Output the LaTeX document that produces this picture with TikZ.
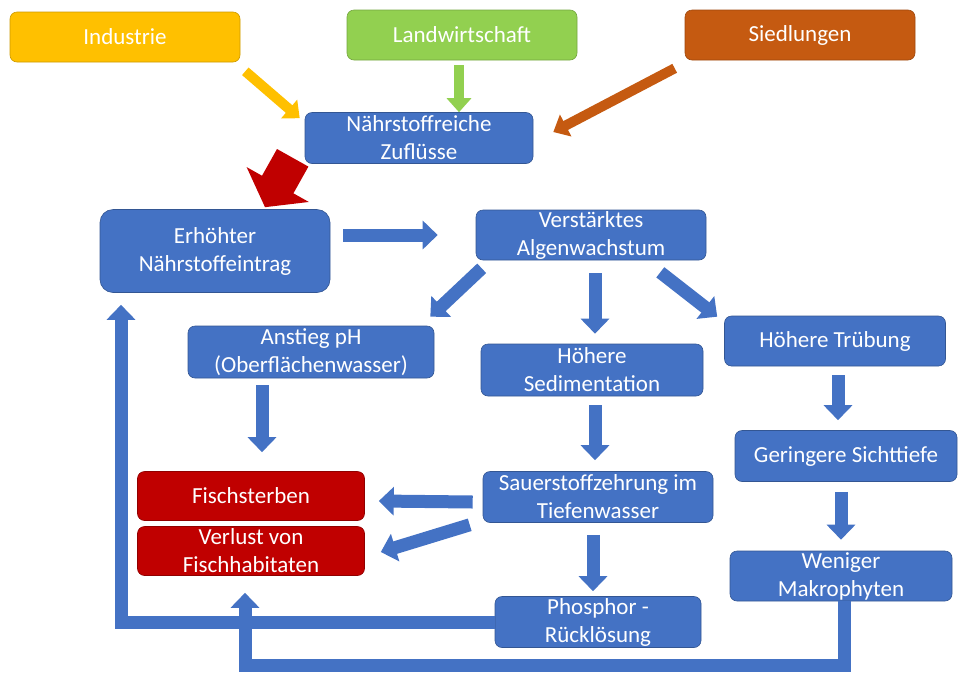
\documentclass[tikz,border=0pt]{standalone}
\usepackage{fontspec}
\setmainfont{Carlito}
\usetikzlibrary{arrows.meta}
\definecolor{blu}{HTML}{4472C4}
\definecolor{rot}{HTML}{C00000}
\definecolor{indc}{HTML}{FFC000}
\definecolor{landc}{HTML}{92D050}
\definecolor{siedc}{HTML}{C55A11}
\tikzset{
  box/.style ={draw=blu!75!black, line width=0.6pt, fill=blu, rounded corners=7pt,
               text=white, align=center, inner sep=0pt, minimum width=222pt,
               minimum height=51pt, font=\fontsize{23}{28}\selectfont},
  bad/.style ={box, fill=rot, draw=rot!75!black, minimum width=227pt, minimum height=49pt},
  src/.style ={box, minimum width=230pt, minimum height=50pt},
  fl/.style  ={draw=blu, line width=13pt, line join=miter, -{Triangle[length=15pt,width=28pt]}},
  fls/.style ={line width=10pt, -{Triangle[length=14pt,width=24pt]}},
  big/.style ={draw=rot, line width=36pt, -{Triangle[length=26pt,width=70pt]}}
}

\begin{document}
\begin{tikzpicture}[x=1pt, y=-1pt]
  \useasboundingbox (0,0) rectangle (961,673);
  % Quellen
  \node[src, fill=indc, draw=indc!80!black]   (ind)  at (125,37) {Industrie};
  \node[src, fill=landc, draw=landc!80!black] (land) at (462,35) {Landwirtschaft};
  \node[src, fill=siedc, draw=siedc!80!black] (sied) at (800,35) {Siedlungen};
  \node[box, minimum width=228pt] (zufl) at (419,138) {Nährstoffreiche\\Zuflüsse};

  \node[box, minimum width=230pt, minimum height=83pt, rounded corners=13pt] (erh) at (215,251)
       {Erhöhter\\Nährstoffeintrag};
  \node[box, minimum width=230pt, minimum height=50pt] (alg) at (591,235) {Verstärktes\\Algenwachstum};

  % mittlere Ebene
  \node[box, minimum width=246pt, minimum height=52pt] (ph)    at (311,352) {Anstieg pH\\(Oberflächenwasser)};
  \node[box, minimum height=52pt]                      (sed)   at (592,370) {Höhere\\Sedimentation};
  \node[box, minimum width=221pt, minimum height=50pt] (trueb) at (835,341) {Höhere Trübung};
  \node[box]                                           (sicht) at (846,456) {Geringere Sichttiefe};

  % Folgen
  \node[bad] (fisch) at (251,496) {Fischsterben};
  \node[bad] (verl)  at (251,551) {Verlust von\\Fischhabitaten};
  \node[box, minimum width=230pt] (sauer) at (598,497) {Sauerstoffzehrung im\\Tiefenwasser};
  \node[box, minimum height=50pt] (makro) at (841,576) {Weniger\\Makrophyten};
  \node[box, minimum width=206pt] (phos)  at (598,622) {Phosphor -\\Rücklösung};

  \draw[fls, draw=indc]  ([shift={(5,9)}]ind.south east) -- ([shift={(-5,6)}]zufl.north west);
  \draw[fls, draw=landc] ([shift={(-3,5)}]land.south) -- ([shift={(40,0)}]zufl.north);
  \draw[fls, draw=siedc] ([shift={(-10,8)}]sied.south west) -- ([shift={(20,-6)}]zufl.east);
  \draw[big] ([shift={(-12,-6)}]zufl.south west) -- ([shift={(50,-2)}]erh.north);

  \draw[fl, shorten <=13pt, shorten >=38pt] (erh.east |- alg.west) -- (alg.west);
  \draw[fl] ([shift={(6,8)}]alg.south west) -- ([shift={(-4,-9)}]ph.north east);
  \draw[fl] ([shift={(4,13)}]alg.south) -- ([shift={(3,-10)}]sed.north);
  \draw[fl] ([shift={(-46,12)}]alg.south east) -- ([shift={(-7,1)}]trueb.north west);

  \draw[fl] ([shift={(-49,7)}]ph.south) -- ([shift={(11,-19)}]fisch.north);
  \draw[fl] ([shift={(3,9)}]sed.south) -- ([shift={(-3,-11)}]sauer.north);
  \draw[fl] ([shift={(3,9)}]trueb.south) -- ([shift={(-8,-10)}]sicht.north);
  \draw[fl] ([shift={(-5,10)}]sicht.south) -- ([shift={(0,-11)}]makro.north);

  \draw[fl] ([shift={(-10,5)}]sauer.west) -- ([shift={(14,5)}]fisch.east);
  \draw[fl] ([shift={(-13,2)}]sauer.south west) -- ([shift={(16,1)}]verl.east);
  \draw[fl] ([shift={(-5,12)}]sauer.south) -- ([shift={(-5,-5)}]phos.north);

  % Rückkopplungen
  \draw[fl] (phos.west) -| ([shift={(-94,12)}]erh.south);
  \draw[fl] ([shift={(3,0)}]makro.south) -- ++(0,64) -| ([shift={(-6,17)}]verl.south);
\end{tikzpicture}
\end{document}
